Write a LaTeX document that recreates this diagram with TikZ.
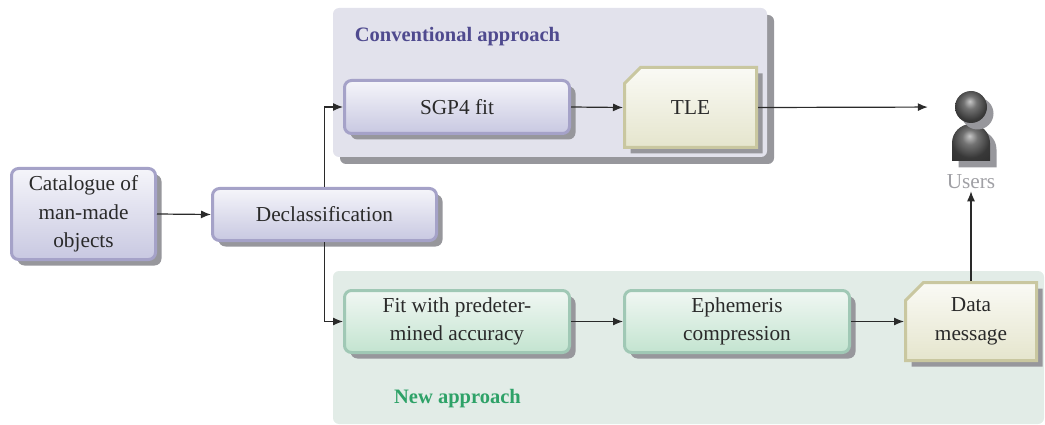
\documentclass[tikz,border=0pt]{standalone}
\usepackage{fontspec}
\setmainfont{Liberation Serif}
\usetikzlibrary{arrows.meta,shadows,shapes.misc}
\definecolor{shadowc}{HTML}{97979C}
\definecolor{inkc}{HTML}{2A2A2A}
\pgfdeclareradialshading{userball}{\pgfpoint{-2bp}{9bp}}{%
  color(0bp)=(black!22); color(10bp)=(black!55); color(25bp)=(black!78); color(50bp)=(black!85)}
\tikzset{
  x=1pt,y=-1pt,
  txt/.style={font=\fontsize{21.3}{28.5}\selectfont,text=inkc,align=center},
  dshadow/.style={drop shadow={shadow xshift=6pt,shadow yshift=-6pt,fill=shadowc,opacity=1}},
  pbox/.style={txt,draw={rgb,255:red,165;green,162;blue,200},line width=3pt,rounded corners=7pt,inner sep=0pt,dshadow,top color={rgb,255:red,245;green,245;blue,250},bottom color={rgb,255:red,200;green,200;blue,225}},
  gbox/.style={txt,draw={rgb,255:red,160;green,200;blue,181},line width=3pt,rounded corners=7pt,inner sep=0pt,dshadow,top color={rgb,255:red,241;green,247;blue,243},bottom color={rgb,255:red,195;green,228;blue,208}},
  ybox/.style={txt,chamfered rectangle,chamfered rectangle corners=north west,chamfered rectangle xsep=9pt,chamfered rectangle ysep=9pt,draw={rgb,255:red,201;green,199;blue,160},line width=3pt,inner sep=0pt,dshadow,top color={rgb,255:red,250;green,250;blue,245},bottom color={rgb,255:red,229;green,229;blue,205}},
  arr/.style={draw=inkc,line width=1.2pt,-{Latex[length=10pt,width=8pt]}},
  grouplabel/.style={font=\fontsize{20.5}{24}\selectfont\bfseries},
}
\begin{document}
\begin{tikzpicture}
\useasboundingbox (0,0) rectangle (1045,425);
% group backgrounds
\node[minimum width=434pt,minimum height=149pt,inner sep=0pt,rounded corners=6pt,fill={rgb,255:red,226;green,226;blue,236},drop shadow={shadow xshift=7pt,shadow yshift=-7pt,fill=shadowc,opacity=1}] (conv) at (550,82.5) {};
\node[minimum width=711pt,minimum height=153pt,inner sep=0pt,rounded corners=6pt,fill={rgb,255:red,226;green,236;blue,231}] (newg) at (688.5,347.5) {};
\node[grouplabel,text={rgb,255:red,79;green,74;blue,143}] (convl) at (457.5,37) {Conventional approach};
\node[grouplabel,text={rgb,255:red,46;green,162;blue,104}] (newl) at (457.5,399) {New approach};
% boxes
\node[pbox,minimum width=144pt,minimum height=91pt] (cat) at (83.5,214) {Catalogue of\\man-made\\objects};
\node[pbox,minimum width=224pt,minimum height=52pt] (dec) at (324.5,214.5) {Declassification};
\node[pbox,minimum width=225pt,minimum height=53pt] (sgp) at (457,107) {SGP4 fit};
\node[ybox,minimum width=132pt,minimum height=80pt] (tle) at (690.5,107.5) {TLE};
\node[gbox,minimum width=225pt,minimum height=62pt] (fit) at (457,321.5) {Fit with predeter-\\mined accuracy};
\node[gbox,minimum width=225pt,minimum height=62pt] (eph) at (737,321.5) {Ephemeris\\compression};
\node[ybox,minimum width=131pt,minimum height=78pt] (data) at (971,321.5) {Data\\message};
% user icon
\path[shading=userball,drop shadow={shadow xshift=6.5pt,shadow yshift=-6.5pt,fill=shadowc,opacity=1}]
  (952,161) -- (952,143) arc[start angle=180,end angle=0,radius=19pt] -- (990,161) -- cycle;
\node[circle,minimum size=32pt,inner sep=0pt,shading=userball,drop shadow={shadow xshift=6.5pt,shadow yshift=-6.5pt,fill=shadowc,opacity=1}] (head) at (971,107) {};
\node[font=\fontsize{21.3}{24}\selectfont,text={rgb,255:red,160;green,160;blue,165},inner sep=2pt] (users) at (971,182) {Users};
% connectors
\draw[arr] (cat.east) -- (dec.west);
\draw[arr] (dec.north) |- (sgp.west);
\draw[arr] (dec.south) |- (fit.west);
\draw[arr] (sgp.east) -- (tle.west);
\draw[arr,shorten >=27pt] (tle.east) -- (head.west);
\draw[arr] (fit.east) -- (eph.west);
\draw[arr] (eph.east) -- (data.west);
\draw[arr] (data.north) -- (users.south);
\end{tikzpicture}
\end{document}
